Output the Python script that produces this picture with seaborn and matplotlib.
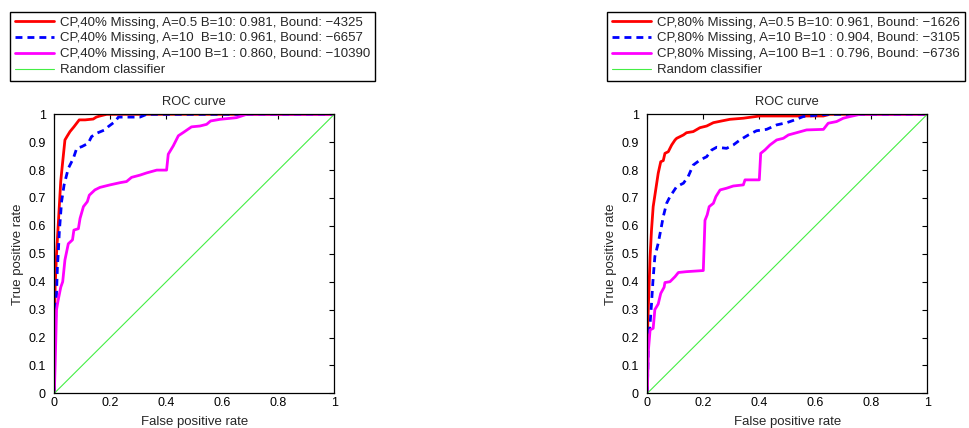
import matplotlib
matplotlib.use("Agg")
import matplotlib.pyplot as plt
import seaborn as sns
import pandas as pd

# ---------------- data ----------------
# Left panel: 40% missing
l_red_x = [0, 0, 0.003, 0.008, 0.015, 0.023, 0.03, 0.038, 0.045, 0.056, 0.07, 0.089, 0.11, 0.139, 0.15, 0.163, 0.187, 1.0]
l_red_y = [0, 0.22, 0.38, 0.5, 0.62, 0.76, 0.83, 0.908, 0.92, 0.938, 0.955, 0.98, 0.98, 0.983, 0.99, 0.994, 1.0, 1.0]

l_blue_x = [0, 0, 0.002, 0.006, 0.011, 0.014, 0.018, 0.026, 0.035, 0.05, 0.068, 0.08, 0.098, 0.121, 0.133, 0.151, 0.18,
            0.193, 0.217, 0.229, 0.306, 0.33, 1.0]
l_blue_y = [0, 0.15, 0.2, 0.3, 0.45, 0.5, 0.58, 0.687, 0.747, 0.806, 0.842, 0.878, 0.884, 0.896, 0.92, 0.932, 0.944,
            0.956, 0.974, 0.99, 0.99, 1.0, 1.0]

l_mag_x = [0, 0.003, 0.008, 0.014, 0.023, 0.03, 0.038, 0.05, 0.065, 0.07, 0.086, 0.092, 0.104, 0.118, 0.125, 0.145,
           0.163, 0.199, 0.235, 0.258, 0.276, 0.306, 0.33, 0.366, 0.401, 0.407, 0.425, 0.443, 0.461, 0.49, 0.52,
           0.544, 0.558, 0.592, 0.651, 0.669, 0.687, 1.0]
l_mag_y = [0, 0.1, 0.3, 0.335, 0.38, 0.4, 0.478, 0.536, 0.55, 0.585, 0.59, 0.627, 0.669, 0.687, 0.71, 0.729,
           0.738, 0.747, 0.755, 0.759, 0.774, 0.782, 0.79, 0.8, 0.8, 0.857, 0.887, 0.923, 0.935, 0.955, 0.958,
           0.964, 0.976, 0.982, 0.988, 0.994, 1.0, 1.0]

# Right panel: 80% missing
r_red_x = [0, 0, 0.004, 0.01, 0.015, 0.021, 0.03, 0.039, 0.048, 0.057, 0.063, 0.075, 0.087, 0.099, 0.105, 0.129,
           0.14, 0.164, 0.188, 0.212, 0.236, 0.265, 0.295, 0.343, 0.402, 0.629, 0.652, 1.0]
r_red_y = [0, 0.19, 0.32, 0.49, 0.585, 0.669, 0.729, 0.789, 0.83, 0.834, 0.86, 0.866, 0.89, 0.908, 0.914, 0.926,
           0.934, 0.938, 0.952, 0.958, 0.97, 0.976, 0.982, 0.986, 0.994, 0.994, 1.0, 1.0]

r_blue_x = [0, 0.004, 0.01, 0.015, 0.02, 0.027, 0.039, 0.048, 0.057, 0.069, 0.081, 0.093, 0.105, 0.129, 0.146,
            0.164, 0.188, 0.212, 0.23, 0.248, 0.283, 0.307, 0.331, 0.361, 0.39, 0.426, 0.462, 0.498, 0.527, 0.557,
            0.617, 0.652, 1.0]
r_blue_y = [0, 0.19, 0.25, 0.32, 0.4, 0.49, 0.538, 0.585, 0.633, 0.681, 0.705, 0.723, 0.741, 0.753, 0.777,
            0.818, 0.836, 0.848, 0.872, 0.882, 0.878, 0.89, 0.908, 0.926, 0.941, 0.946, 0.962, 0.97, 0.98, 0.992,
            0.998, 1.0, 1.0]

r_mag_x = [0, 0.004, 0.01, 0.021, 0.027, 0.039, 0.048, 0.06, 0.063, 0.081, 0.099, 0.111, 0.14, 0.2, 0.206, 0.214,
           0.221, 0.236, 0.245, 0.26, 0.283, 0.307, 0.343, 0.349, 0.4, 0.405, 0.42, 0.438, 0.462, 0.486, 0.504,
           0.533, 0.569, 0.629, 0.646, 0.676, 0.7, 0.724, 0.76, 1.0]
r_mag_y = [0, 0.155, 0.227, 0.233, 0.3, 0.32, 0.358, 0.38, 0.397, 0.4, 0.418, 0.433, 0.436, 0.44, 0.62, 0.64,
           0.669, 0.681, 0.705, 0.729, 0.735, 0.743, 0.747, 0.765, 0.765, 0.86, 0.872, 0.89, 0.908, 0.914, 0.926,
           0.934, 0.944, 0.946, 0.968, 0.974, 0.986, 0.992, 1.0, 1.0]

random_x = [0, 1]
random_y = [0, 1]

left_labels = ["CP,40% Missing, A=0.5 B=10: 0.981, Bound: \u22124325",
               "CP,40% Missing, A=10  B=10: 0.961, Bound: \u22126657",
               "CP,40% Missing, A=100 B=1 : 0.860, Bound: \u221210390",
               "Random classifier"]
right_labels = ["CP,80% Missing, A=0.5 B=10: 0.961, Bound: \u22121626",
                "CP,80% Missing, A=10 B=10 : 0.904, Bound: \u22123105",
                "CP,80% Missing, A=100 B=1 : 0.796, Bound: \u22126736",
                "Random classifier"]

x_ticks = [0, 0.2, 0.4, 0.6, 0.8, 1]
x_ticklabels = ["0", "0.2", "0.4", "0.6", "0.8", "1"]
y_ticks = [0, 0.1, 0.2, 0.3, 0.4, 0.5, 0.6, 0.7, 0.8, 0.9, 1]
y_ticklabels = ["0", "0.1", "0.2", "0.3", "0.4", "0.5", "0.6", "0.7", "0.8", "0.9", "1"]

# ---------------- styling ----------------
sns.set_style("white")
plt.rcParams["font.family"] = ["Liberation Sans", "DejaVu Sans"]

W, H = 970, 428
fig = plt.figure(figsize=(W / 100, H / 100), dpi=100)

colors = ["#ff0000", "#0000ff", "#ff00ff", "#44ee44"]
styles = ["-", (0, (2.5, 1.8)), "-", "-"]
widths = [2.0, 2.0, 2.0, 0.8]


def draw(ax_left_px, series, labels, legend_left_px):
    ax = fig.add_axes([ax_left_px / W, 1 - 393.3 / H, 280 / W, 279 / H])
    for (xs, ys), lab, c, ls, lw in zip(series, labels, colors, styles, widths):
        df = pd.DataFrame({"x": xs, "y": ys})
        sns.lineplot(data=df, x="x", y="y", ax=ax, color=c, linestyle=ls, linewidth=lw,
                     label=lab, sort=False, estimator=None, legend=False)
    ax.set_xlim(0, 1)
    ax.set_ylim(0, 1)
    ax.set_xticks(x_ticks)
    ax.set_xticklabels(x_ticklabels)
    ax.set_yticks(y_ticks)
    ax.set_yticklabels(y_ticklabels)
    ax.tick_params(axis="both", direction="in", top=True, right=True, length=3.5, width=0.8,
                   labelsize=9, colors="black")
    ax.tick_params(axis="x", pad=3)
    ax.tick_params(axis="y", pad=6)
    for s in ax.spines.values():
        s.set_color("black")
        s.set_linewidth(0.9)
        s.set_visible(True)
    ax.set_title("ROC curve", fontsize=9.3, pad=6.5)
    ax.set_xlabel("False positive rate", fontsize=9.5, labelpad=4.5)
    ax.set_ylabel("True positive rate", fontsize=9.5, labelpad=3)
    handles = ax.get_lines()
    leg = fig.legend(handles, labels, loc="upper left",
                     bbox_to_anchor=(legend_left_px / W, 1 - 11.7 / H),
                     bbox_transform=fig.transFigure, borderaxespad=0,
                     fontsize=9.5, frameon=True, fancybox=False, framealpha=1,
                     edgecolor="black", borderpad=0.35, labelspacing=0.28,
                     handlelength=3.0, handletextpad=0.45)
    leg.get_frame().set_linewidth(1.0)
    return ax


draw(54.3, [(l_red_x, l_red_y), (l_blue_x, l_blue_y), (l_mag_x, l_mag_y), (random_x, random_y)],
     left_labels, 10)
draw(647.3, [(r_red_x, r_red_y), (r_blue_x, r_blue_y), (r_mag_x, r_mag_y), (random_x, random_y)],
     right_labels, 607)

fig.savefig("out.png", dpi=100)
